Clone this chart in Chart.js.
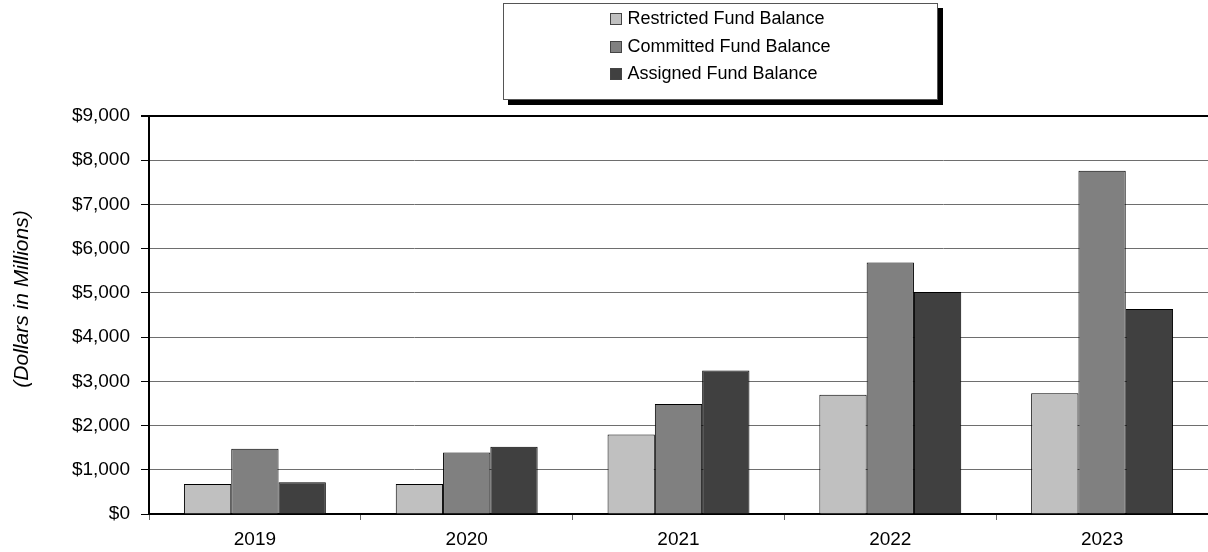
<!DOCTYPE html>
<html>
<head>
<meta charset="utf-8">
<script src="https://cdn.jsdelivr.net/npm/chart.js@4/dist/chart.umd.min.js"></script>
<style>
  html, body { margin: 0; padding: 0; background: #fff; }
  #wrap { position: relative; width: 1208px; height: 552px; overflow: hidden; }
  #legend {
    position: absolute; left: 503px; top: 3px; width: 433px; height: 95px;
    border: 1px solid #555; background: #fff; box-shadow: 5px 5px 0 #000;
    text-align: center; font-family: "Liberation Sans", Arial, sans-serif; font-size: 18px; color: #000;
  }
  #legend .inner { display: inline-block; text-align: left; padding-top: 1px; }
  #legend .row { height: 27.5px; line-height: 27.5px; white-space: nowrap; }
  #legend .sw { display: inline-block; width: 10px; height: 10px; border: 1px solid #444; margin-right: 5px; vertical-align: -1px; }
</style>
</head>
<body>
<div id="wrap">
  <canvas id="c" width="1208" height="552"></canvas>
  <div id="legend"><div class="inner" id="legendInner"></div></div>
</div>
<script>
const categories = ["2019", "2020", "2021", "2022", "2023"];
const restricted = [680, 680, 1800, 2695, 2730];
const committed  = [1475, 1390, 2485, 5690, 7760];
const assigned   = [720, 1520, 3245, 5020, 4635];
const seriesNames = ["Restricted Fund Balance", "Committed Fund Balance", "Assigned Fund Balance"];
const seriesColors = ["#C0C0C0", "#808080", "#404040"];
const yTitle = "(Dollars in Millions)";

const FONT = '"Liberation Sans", Arial, sans-serif';

const yTitlePlugin = {
  id: 'yTitle',
  afterDraw(chart) {
    const ctx = chart.ctx;
    ctx.save();
    ctx.translate(22, 299);
    ctx.rotate(-Math.PI / 2);
    ctx.font = 'italic 21px ' + FONT;
    ctx.fillStyle = '#000';
    ctx.textAlign = 'center';
    ctx.textBaseline = 'middle';
    ctx.fillText(yTitle, 0, 0);
    ctx.restore();
  }
};

const values = [restricted, committed, assigned];
const chart = new Chart(document.getElementById('c'), {
  type: 'bar',
  data: {
    labels: categories,
    datasets: seriesNames.map((n, i) => ({
      label: n,
      data: values[i],
      backgroundColor: seriesColors[i],
      borderColor: '#000',
      borderWidth: 1,
      categoryPercentage: 0.67,
      barPercentage: 1.0
    }))
  },
  options: {
    responsive: false,
    animation: false,
    devicePixelRatio: 1,
    layout: { padding: { top: 116, left: 0, right: 0, bottom: 0 } },
    plugins: { legend: { display: false }, tooltip: { enabled: false } },
    scales: {
      x: {
        offset: true,
        grid: { offset: true, drawOnChartArea: false, drawTicks: true, tickLength: 6, tickColor: '#666', lineWidth: 1 },
        border: { display: true, color: '#000', width: 2 },
        ticks: { color: '#000', font: { family: FONT, size: 19 }, padding: 8, maxRotation: 0 },
        afterFit(s) { s.height = 38; }
      },
      y: {
        min: 0, max: 9000,
        ticks: {
          stepSize: 1000, color: '#000', padding: 11,
          font: { family: FONT, size: 19 },
          callback: v => '$' + Number(v).toLocaleString('en-US')
        },
        grid: {
          color: c => (c.tick && c.tick.value === 9000) ? '#000' : '#6e6e6e',
          lineWidth: c => (c.tick && c.tick.value === 9000) ? 2 : 1,
          tickColor: '#000', tickLength: 8
        },
        border: { display: true, color: '#000', width: 2 },
        afterFit(s) { s.width = 149; }
      }
    }
  },
  plugins: [yTitlePlugin]
});

const inner = document.getElementById('legendInner');
seriesNames.forEach((n, i) => {
  const row = document.createElement('div');
  row.className = 'row';
  const sw = document.createElement('span');
  sw.className = 'sw';
  sw.style.background = seriesColors[i];
  row.appendChild(sw);
  row.appendChild(document.createTextNode(n));
  inner.appendChild(row);
});
</script>
</body>
</html>
